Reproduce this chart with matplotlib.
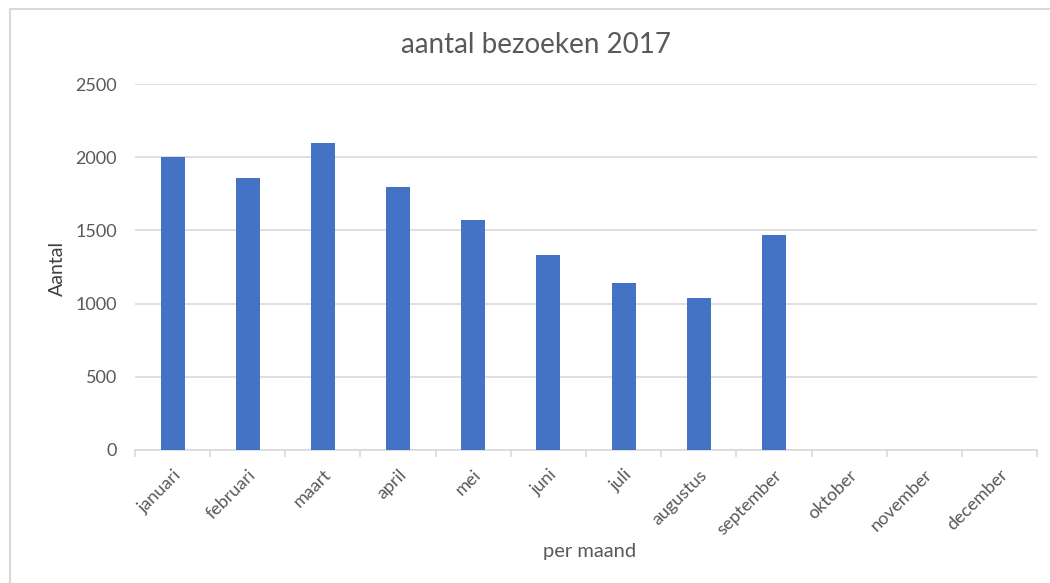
import matplotlib
matplotlib.use("Agg")
import matplotlib.pyplot as plt
from matplotlib.patches import Rectangle
import numpy as np

months = ["januari", "februari", "maart", "april", "mei", "juni", "juli",
          "augustus", "september", "oktober", "november", "december"]
visits = [2000, 1860, 2100, 1795, 1570, 1335, 1140, 1035, 1470, 0, 0, 0]
yticks = [0, 500, 1000, 1500, 2000, 2500]

plt.rcParams['font.family'] = ['Lato', 'DejaVu Sans']
txt = '#595959'
grid = '#d9d9d9'

W, H = 1050, 583
fig = plt.figure(figsize=(10.5, 5.83), dpi=100)
fig.patches.append(Rectangle((10/W, -0.2), 1.2, 1.2 - 9/H, transform=fig.transFigure,
                             fill=False, edgecolor='#d9d9d9', linewidth=1.5))
ax = fig.add_axes([135/W, (H-450)/H, (1037-135)/W, (450-84)/H])

x = np.arange(len(months))
ax.bar(x, visits, width=0.32, color='#4472C4', zorder=3)

ax.set_xlim(-0.5, len(months) - 0.5)
ax.set_ylim(0, 2500)
ax.set_yticks(yticks)
ax.set_yticklabels([str(v) for v in yticks])
ax.yaxis.grid(True, color=grid, linewidth=1.2, zorder=0)
ax.tick_params(axis='y', length=0, labelsize=13, colors=txt, pad=13)

ax.set_xticks(x)
ax.set_xticklabels(months, rotation=45, ha='right', rotation_mode='anchor')
ax.tick_params(axis='x', which='major', length=0, labelsize=13, colors=txt, pad=12)
ax.set_xticks(np.arange(-0.5, len(months) + 0.5, 1), minor=True)
ax.tick_params(axis='x', which='minor', length=5, color=grid, width=1.2)

for s in ['top', 'right', 'left']:
    ax.spines[s].set_visible(False)
ax.spines['bottom'].set_color(grid)
ax.spines['bottom'].set_linewidth(1.2)

fig.text(536/W, 1 - 45/H, 'aantal bezoeken 2017', fontsize=20, color=txt,
         ha='center', va='center')
fig.text(57/W, 1 - 268/H, 'Aantal', fontsize=14, color='#404040',
         ha='center', va='center', rotation=90)
fig.text(590/W, 1 - 551/H, 'per maand', fontsize=14.5, color=txt,
         ha='center', va='center')

fig.savefig('out.png', dpi=100)
